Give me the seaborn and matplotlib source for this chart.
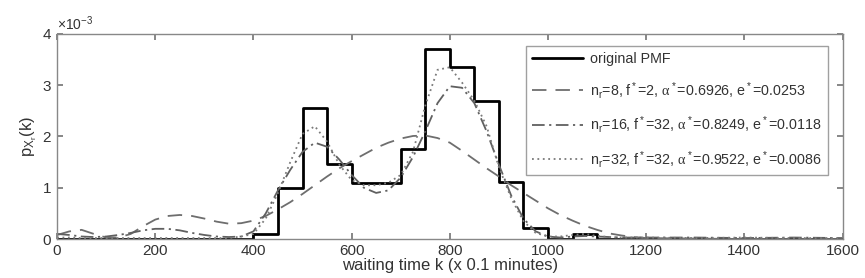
import numpy as np
import pandas as pd
import matplotlib
matplotlib.use("Agg")
import matplotlib.pyplot as plt
import seaborn as sns
from matplotlib.ticker import ScalarFormatter

# Исходная PMF (ступеньки, ширина 50)
step_k = [0, 400, 450, 500, 550, 600, 700, 750, 800, 850, 900, 950, 1000, 1050, 1100, 1600]
step_p = [0.0, 0.1, 1.0, 2.55, 1.47, 1.1, 1.75, 3.7, 3.35, 2.7, 1.12, 0.22, 0.0, 0.1, 0.0, 0.0]

# Аппроксимации (значения в единицах 1e-3)
curve_k = [0, 25, 50, 75, 100, 125, 150, 175, 200, 225, 250, 275, 300, 325, 350, 375,
           400, 425, 450, 475, 500, 525, 550, 575, 600, 625, 650, 675, 700, 725, 750, 775,
           800, 825, 850, 875, 900, 925, 950, 975, 1000, 1025, 1050, 1075, 1100, 1125, 1150,
           1175, 1200, 1300, 1400, 1500, 1600]
p_n8 = [0.08, 0.15, 0.18, 0.1, 0.03, 0.03, 0.1, 0.25, 0.38, 0.45, 0.47, 0.45, 0.4, 0.34, 0.3, 0.31,
        0.36, 0.45, 0.58, 0.72, 0.88, 1.05, 1.22, 1.38, 1.52, 1.65, 1.78, 1.88, 1.96, 2.01, 2.02, 1.97,
        1.88, 1.72, 1.55, 1.38, 1.22, 1.05, 0.9, 0.75, 0.6, 0.47, 0.36, 0.26, 0.18, 0.11, 0.07,
        0.04, 0.02, 0.01, 0.0, 0.0, 0.0]
p_n16 = [0.1, 0.08, 0.05, 0.04, 0.05, 0.08, 0.12, 0.17, 0.2, 0.2, 0.17, 0.12, 0.08, 0.05, 0.04, 0.05,
         0.15, 0.5, 0.95, 1.35, 1.7, 1.88, 1.8, 1.55, 1.25, 1.0, 0.9, 0.95, 1.2, 1.6, 2.1, 2.65,
         2.98, 2.95, 2.65, 2.1, 1.45, 0.85, 0.4, 0.15, 0.05, 0.03, 0.05, 0.06, 0.05, 0.04, 0.03,
         0.03, 0.03, 0.03, 0.02, 0.03, 0.02]
p_n32 = [0.03, 0.03, 0.02, 0.02, 0.02, 0.02, 0.02, 0.02, 0.02, 0.02, 0.02, 0.02, 0.02, 0.02, 0.02, 0.05,
         0.1, 0.4, 0.9, 1.5, 2.05, 2.2, 1.9, 1.45, 1.15, 1.05, 1.05, 1.1, 1.25, 1.7, 2.6, 3.3,
         3.35, 3.05, 2.7, 2.2, 1.4, 0.8, 0.35, 0.12, 0.05, 0.05, 0.08, 0.1, 0.06, 0.04, 0.03,
         0.03, 0.03, 0.02, 0.03, 0.02, 0.02]

labels = ['original PMF',
          r'$\mathrm{n_r}$=8, $\mathrm{f^*}$=2, $\alpha^*$=0.6926, $\mathrm{e^*}$=0.0253',
          r'$\mathrm{n_r}$=16, $\mathrm{f^*}$=32, $\alpha^*$=0.8249, $\mathrm{e^*}$=0.0118',
          r'$\mathrm{n_r}$=32, $\mathrm{f^*}$=32, $\alpha^*$=0.9522, $\mathrm{e^*}$=0.0086']

sns.set_theme(style="ticks")
plt.rcParams['font.family'] = ['Liberation Sans', 'DejaVu Sans']
plt.rcParams['mathtext.fontset'] = 'custom'
plt.rcParams['mathtext.rm'] = 'Liberation Sans'
plt.rcParams['mathtext.it'] = 'Liberation Serif'

fig, ax = plt.subplots(figsize=(8.65, 2.78), dpi=100)
fig.subplots_adjust(left=0.066, right=0.974, bottom=0.14, top=0.878)

sk = np.array(step_k)
sp = np.array(step_p) * 1e-3
ck = np.array(curve_k)

sns.lineplot(x=sk, y=sp, ax=ax, color='black', linewidth=2.0, drawstyle='steps-post',
             label=labels[0], estimator=None, sort=False)
sns.lineplot(x=ck, y=np.array(p_n8) * 1e-3, ax=ax, color='#6e6e6e', linewidth=1.3,
             label=labels[1], estimator=None)
sns.lineplot(x=ck, y=np.array(p_n16) * 1e-3, ax=ax, color='#606060', linewidth=1.3,
             label=labels[2], estimator=None)
sns.lineplot(x=ck, y=np.array(p_n32) * 1e-3, ax=ax, color='#7a7a7a', linewidth=1.3,
             label=labels[3], estimator=None)

lines = ax.get_lines()
lines[1].set_linestyle((0, (8, 5)))
lines[2].set_linestyle((0, (7, 2.5, 1.2, 2.5)))
lines[3].set_linestyle((0, (1, 2)))

ax.set_xlim(0, 1600)
ax.set_ylim(0, 4e-3)
ax.set_xticks(range(0, 1601, 200))
ax.set_yticks(np.arange(0, 4.01e-3, 1e-3))
fmt = ScalarFormatter(useMathText=True)
fmt.set_powerlimits((-3, -3))
ax.yaxis.set_major_formatter(fmt)
ax.yaxis.get_offset_text().set_fontsize(10)
ax.yaxis.get_offset_text().set_color('#333333')

ax.tick_params(direction='in', top=True, right=True, length=4, labelsize=11,
               color='#777777', labelcolor='#333333')
for s in ax.spines.values():
    s.set_color('#888888')
    s.set_linewidth(1.0)

ax.set_xlabel('waiting time k (x 0.1 minutes)', fontsize=12, color='#333333', labelpad=0)
ax.set_ylabel(r'$\mathrm{p_{X_r}(k)}$', fontsize=12, color='#333333', labelpad=2)

leg = ax.legend(loc='upper right', fontsize=10.3, labelspacing=0.95, handlelength=3.6,
                handletextpad=0.5, borderpad=0.4, frameon=True, fancybox=False,
                bbox_to_anchor=(0.99, 0.975))
leg.get_frame().set_edgecolor('#888888')
leg.get_frame().set_linewidth(1.0)
for t in leg.get_texts():
    t.set_color('#333333')

fig.savefig('out.png', dpi=100)
